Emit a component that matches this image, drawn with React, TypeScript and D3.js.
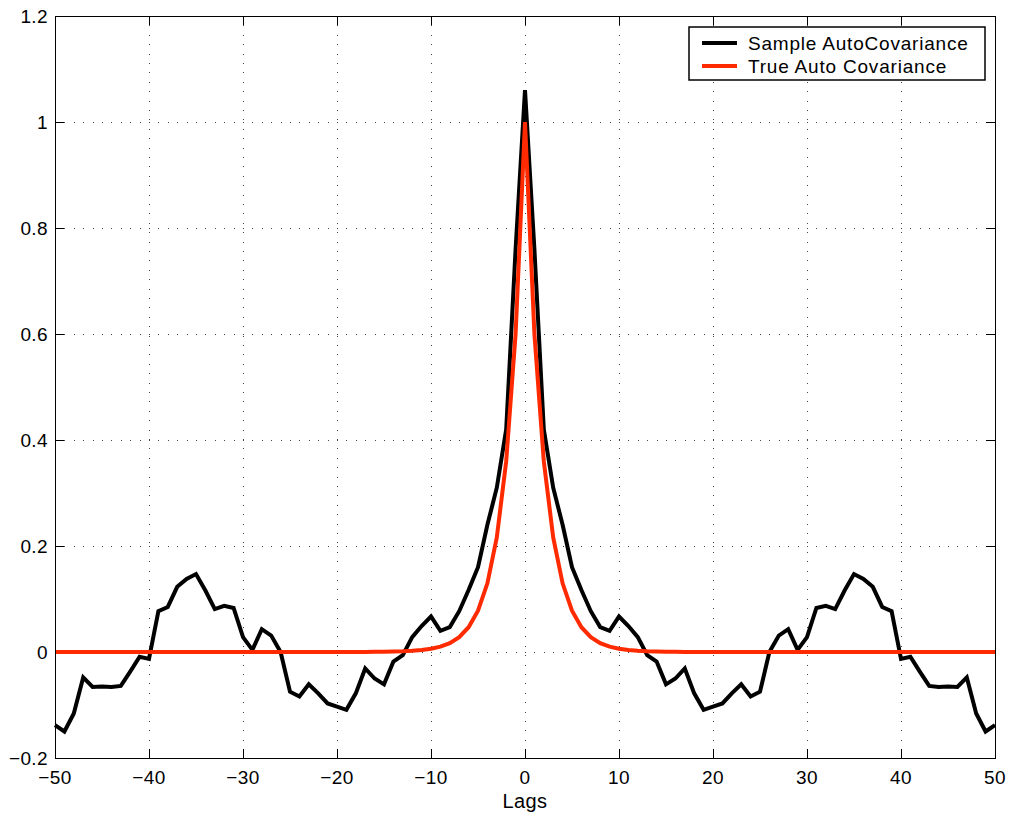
import React from "react";
import * as d3 from "d3";

// lags -50 .. 50
const lags = d3.range(-50, 51);

// sample autocovariance (lag -50 -> 50)
const sampleAcov = [
  -0.138, -0.150, -0.116, -0.048, -0.066, -0.065, -0.066, -0.064, -0.037, -0.009,
  -0.013, 0.077, 0.085, 0.123, 0.138, 0.147, 0.116, 0.081, 0.087, 0.083,
  0.028, 0.004, 0.043, 0.031, 0.000, -0.075, -0.084, -0.061, -0.078, -0.097,
  -0.103, -0.109, -0.078, -0.031, -0.050, -0.061, -0.018, -0.006, 0.028, 0.049,
  0.067, 0.040, 0.047, 0.077, 0.117, 0.160, 0.240, 0.310, 0.420, 0.760,
  1.060,
  0.760, 0.420, 0.310, 0.240, 0.160, 0.117, 0.077, 0.047, 0.040, 0.067,
  0.049, 0.028, -0.006, -0.018, -0.061, -0.050, -0.031, -0.078, -0.109, -0.103,
  -0.097, -0.078, -0.061, -0.084, -0.075, 0.000, 0.031, 0.043, 0.004, 0.028,
  0.083, 0.087, 0.081, 0.116, 0.147, 0.138, 0.123, 0.085, 0.077, -0.013,
  -0.009, -0.037, -0.064, -0.066, -0.065, -0.066, -0.048, -0.116, -0.150, -0.138,
];

// true autocovariance (lag -50 -> 50)
const trueAcov = [
  0, 0, 0, 0, 0, 0, 0, 0, 0, 0,
  0, 0, 0, 0, 0, 0, 0, 0, 0, 0,
  0, 0, 0, 0, 0, 0, 0, 0, 0, 0,
  0, 0.0001, 0.0001, 0.0002, 0.0003, 0.0005, 0.0008, 0.0013, 0.0022, 0.0036,
  0.006, 0.0101, 0.0168, 0.028, 0.0467, 0.0778, 0.1296, 0.216, 0.36, 0.6,
  1.0,
  0.6, 0.36, 0.216, 0.1296, 0.0778, 0.0467, 0.028, 0.0168, 0.0101, 0.006,
  0.0036, 0.0022, 0.0013, 0.0008, 0.0005, 0.0003, 0.0002, 0.0001, 0.0001, 0,
  0, 0, 0, 0, 0, 0, 0, 0, 0, 0,
  0, 0, 0, 0, 0, 0, 0, 0, 0, 0,
  0, 0, 0, 0, 0, 0, 0, 0, 0, 0,
];

const xTicks = [-50, -40, -30, -20, -10, 0, 10, 20, 30, 40, 50];
const xTickLabels = ["\u221250", "\u221240", "\u221230", "\u221220", "\u221210", "0", "10", "20", "30", "40", "50"];
const yTicks = [-0.2, 0, 0.2, 0.4, 0.6, 0.8, 1, 1.2];
const yTickLabels = ["\u22120.2", "0", "0.2", "0.4", "0.6", "0.8", "1", "1.2"];
const seriesNames = ["Sample AutoCovariance", "True Auto Covariance"];
const seriesColors = ["#000000", "#ff2a00"];

const W = 1011;
const H = 815;
const left = 55;
const right = 995;
const top = 16;
const bottom = 758;
const font = "'Liberation Sans', Arial, Helvetica, sans-serif";

export default function App() {
  const x = d3.scaleLinear().domain([-50, 50]).range([left, right]);
  const y = d3.scaleLinear().domain([-0.2, 1.2]).range([bottom, top]);
  const line = d3
    .line<number>()
    .x((_, i) => x(lags[i]))
    .y((d) => y(d));

  const tickLen = 9;
  const grid = "#444";

  return (
    <svg
      width={W}
      height={H}
      style={{ position: "absolute", left: 0, top: 0, background: "#fff" }}
      fontFamily={font}
    >
      <rect x={0} y={0} width={W} height={H} fill="#fff" />
      {/* grid */}
      {xTicks.slice(1, -1).map((t) => (
        <line
          key={"gx" + t}
          x1={x(t)}
          x2={x(t)}
          y1={top}
          y2={bottom}
          stroke={grid}
          strokeWidth={1}
          strokeDasharray="1,8.4"
          shapeRendering="crispEdges"
        />
      ))}
      {yTicks.slice(1, -1).map((t) => (
        <line
          key={"gy" + t}
          x1={left}
          x2={right}
          y1={y(t)}
          y2={y(t)}
          stroke={grid}
          strokeWidth={1}
          strokeDasharray="1,8.4"
          shapeRendering="crispEdges"
        />
      ))}
      {/* ticks */}
      {xTicks.map((t) => (
        <g key={"tx" + t} stroke="#000" shapeRendering="crispEdges">
          <line x1={x(t)} x2={x(t)} y1={bottom} y2={bottom - tickLen} />
          <line x1={x(t)} x2={x(t)} y1={top} y2={top + tickLen} />
        </g>
      ))}
      {yTicks.map((t) => (
        <g key={"ty" + t} stroke="#000" shapeRendering="crispEdges">
          <line x1={left} x2={left + tickLen} y1={y(t)} y2={y(t)} />
          <line x1={right} x2={right - tickLen} y1={y(t)} y2={y(t)} />
        </g>
      ))}
      {/* series */}
      <path d={line(sampleAcov) || ""} fill="none" stroke={seriesColors[0]} strokeWidth={4} />
      <path d={line(trueAcov) || ""} fill="none" stroke={seriesColors[1]} strokeWidth={4} />
      {/* box */}
      <rect
        x={left}
        y={top}
        width={right - left}
        height={bottom - top}
        fill="none"
        stroke="#000"
        strokeWidth={1}
        shapeRendering="crispEdges"
      />
      {/* tick labels */}
      {xTicks.map((t, i) => (
        <text key={"lx" + t} x={x(t)} y={784} textAnchor="middle" fontSize={19} letterSpacing={0.4}>
          {xTickLabels[i]}
        </text>
      ))}
      {yTicks.map((t, i) => (
        <text
          key={"ly" + t}
          x={48}
          y={y(t)}
          dy="0.35em"
          textAnchor="end"
          fontSize={19}
          letterSpacing={0.4}
        >
          {yTickLabels[i]}
        </text>
      ))}
      <text x={x(0)} y={808} textAnchor="middle" fontSize={20} letterSpacing={0.4}>
        Lags
      </text>
      {/* legend */}
      <g>
        <rect x={689} y={27} width={296} height={53} fill="#fff" stroke="#000" strokeWidth={1.5} />
        {seriesNames.map((name, i) => (
          <g key={name}>
            <line
              x1={702}
              x2={737}
              y1={43 + i * 23}
              y2={43 + i * 23}
              stroke={seriesColors[i]}
              strokeWidth={4}
            />
            <text x={748} y={43 + i * 23} dy="0.35em" fontSize={19} letterSpacing={0.8}>
              {name}
            </text>
          </g>
        ))}
      </g>
    </svg>
  );
}
